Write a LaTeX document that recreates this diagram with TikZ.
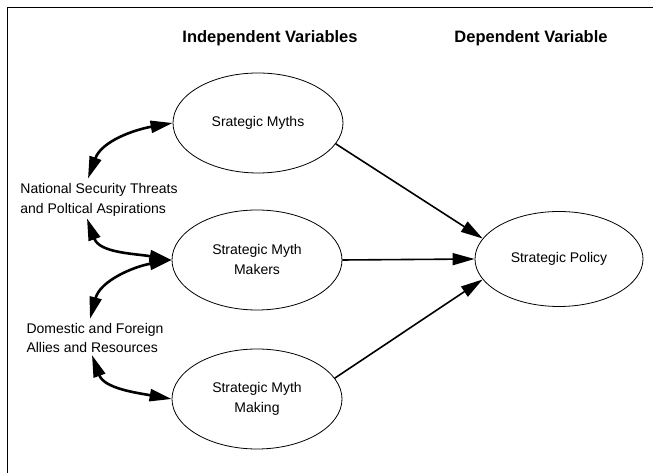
\documentclass[tikz,border=0pt]{standalone}
\usepackage{fontspec}
\setmainfont{Liberation Sans}
\usepackage{tikz}
\usetikzlibrary{arrows.meta}
\usetikzlibrary{shapes.geometric}

\begin{document}
\begin{tikzpicture}[x=1pt,y=1pt,
var/.style={ellipse, draw, line width=0.8pt, minimum width=170pt, minimum height=100pt, inner sep=0pt, align=center, font=\fontsize{14}{20}\selectfont},
lbl/.style={align=left, inner sep=2pt, font=\fontsize{14}{19.5}\selectfont},
head/.style={font=\fontsize{16.5}{20}\selectfont\bfseries},
dbl/.style={{Triangle[length=22pt,width=12pt]}-{Triangle[length=22pt,width=12pt]}, line width=2.6pt},
one/.style={-{Triangle[length=22pt,width=12pt]}, line width=1.6pt}
]
\useasboundingbox (0,0) rectangle (653,473);
% frame
\draw[line width=1pt] (7,0) -- (7,465) -- (653,465);
% column headings
\node[head] (indep) at (270,435) {Independent Variables};
\node[head] (dep) at (531,435) {Dependent Variable};
% draws ellipses
\node[var] (myths) at (258,350) {Srategic Myths};
\node[var] (makers) at (257,213) {Strategic Myth\\Makers};
\node[var] (making) at (257,74) {Strategic Myth\\Making};
\node[var, minimum width=168pt, minimum height=95pt] (policy) at (559,214) {Strategic Policy};
% side labels
\node[lbl] (natl) at (99,273) {National Security Threats\\and Poltical Aspirations};
\node[lbl] (domestic) at (95,135) {Domestic and Foreign\\Allies and Resources};
% draws curved arrows
\draw[dbl] ([xshift=-11pt,yshift=3pt]natl.north) to[out=70,in=190] (myths.west);
\draw[dbl] ([xshift=-12pt]natl.south) to[out=-70,in=170] (makers.west);
\draw[dbl] (makers.west) to[out=190,in=75] ([xshift=-5pt,yshift=2pt]domestic.north);
\draw[dbl] ([xshift=-3pt]domestic.south) to[out=-70,in=170] (making.west);
% draws straight arrows
\draw[one] (myths.-15) -- (policy.165);
\draw[one] (makers.east) -- (policy.west);
\draw[one] (making.15) -- (policy.195);
\end{tikzpicture}
\end{document}
